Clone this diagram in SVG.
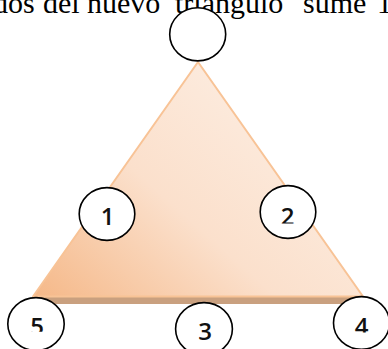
<svg xmlns="http://www.w3.org/2000/svg" width="388" height="349" viewBox="0 0 388 349">
<style>
.node{fill:#fff;stroke:#000;stroke-width:1.6}
.lbl{font-family:"Open Sans","Liberation Sans",Arial,sans-serif;font-size:24px;font-weight:600;fill:#111;text-anchor:middle}
.top{font-family:"Liberation Serif","Times New Roman",serif;font-size:30px;fill:#000}
</style>
<defs>
<linearGradient id="g" x1="0" y1="1" x2="1" y2="0.2">
<stop offset="0" stop-color="#f5b888"/>
<stop offset="0.45" stop-color="#fbe0cc"/>
<stop offset="1" stop-color="#fdf0e6"/>
</linearGradient>
<clipPath id="c2"><rect x="250" y="180" width="80" height="43.5"/></clipPath>
<clipPath id="c5"><rect x="0" y="290" width="80" height="41.7"/></clipPath>
<clipPath id="c4"><rect x="320" y="290" width="68" height="42.6"/></clipPath>
</defs>
<text class="top" y="13"><tspan x="-7">dos</tspan><tspan x="43">del</tspan><tspan x="87">nuevo</tspan><tspan x="175">triángulo</tspan><tspan x="303">sume</tspan><tspan x="377">1</tspan></text>
<g id="triangle">
<polygon points="40,297 362,297 362,304 40,304" fill="#c9a07f"/>
<polygon points="198,62 363,296.5 33,296.5" fill="url(#g)" stroke="#f8c396" stroke-width="2" stroke-linejoin="round"/>
</g>
<g id="connectors"></g>
<g id="node-top"><ellipse class="node" cx="197.7" cy="34.3" rx="28" ry="26.6"/></g>
<g id="node-1"><ellipse class="node" cx="107" cy="214" rx="27.8" ry="26.4"/><text class="lbl" x="107.5" y="225">1</text></g>
<g id="node-2"><ellipse class="node" cx="288" cy="212" rx="27.8" ry="26.4"/><text class="lbl" x="287.5" y="225" clip-path="url(#c2)">2</text></g>
<g id="node-5"><ellipse class="node" cx="36" cy="324" rx="28.2" ry="26.4"/><text class="lbl" x="37" y="335" clip-path="url(#c5)">5</text></g>
<g id="node-3"><ellipse class="node" cx="204" cy="329" rx="28.4" ry="26.4"/><text class="lbl" x="205" y="340">3</text></g>
<g id="node-4"><ellipse class="node" cx="361.5" cy="323" rx="28" ry="26.4"/><text class="lbl" x="361.7" y="334.5" clip-path="url(#c4)">4</text></g>
</svg>
